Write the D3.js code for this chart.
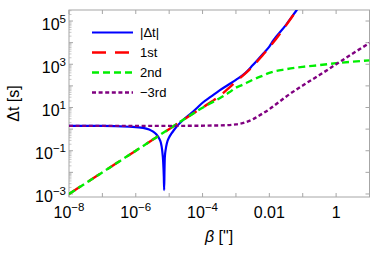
<!DOCTYPE html>
<html>
<head>
<meta charset="utf-8">
<script src="https://cdn.jsdelivr.net/npm/d3@7"></script>
<style>
  body { margin: 0; background: #fff; }
  text { font-family: "Liberation Sans", Arial, sans-serif; }
</style>
</head>
<body>
<svg id="chart" width="374" height="255"></svg>
<script>
// values, as log10(beta) and log10(delta t)
const blueLogB = [-8, -7, -6.2, -5.78, -5.6, -5.48, -5.38, -5.3, -5.25, -5.21, -5.18, -5.16, -5.15, -5.14, -5.13, -5.1, -5.07, -5.0, -4.93, -4.85, -4.78, -4.6, -4.38, -4.2, -4.0, -3.75, -3.5, -3.25, -3.0, -2.73, -2.5, -2.18, -2.0, -1.88, -1.5, -1.18, -1.0];
const blueLogT = [0.15, 0.15, 0.11, 0.06, -0.02, -0.12, -0.25, -0.43, -0.62, -0.97, -1.5, -2.2, -2.82, -1.9, -1.3, -0.9, -0.66, -0.38, -0.2, -0.03, 0.11, 0.4, 0.68, 0.93, 1.22, 1.5, 1.78, 2.03, 2.28, 2.58, 2.95, 3.5, 3.82, 4.1, 4.82, 5.51, 5.9];

const redLogB = [-8, -6, -4.5, -4.0, -3.7, -3.5, -3.2, -3.0, -2.7, -2.5, -2.2, -2.0, -1.5, -1.18, -1.0];
const redLogT = [-3, -1, 0.5, 1.0, 1.3, 1.52, 1.92, 2.2, 2.6, 2.9, 3.42, 3.78, 4.8, 5.5, 5.9];

const greenLogB = [-8, -6, -4.2, -4.0, -3.7, -3.5, -3.2, -3.0, -2.8, -2.5, -2.2, -2.0, -1.5, -1.0, -0.5, 0, 0.5, 1.0];
const greenLogT = [-3, -1, 0.8, 0.99, 1.25, 1.42, 1.7, 1.92, 2.05, 2.28, 2.47, 2.6, 2.77, 2.88, 2.96, 3.05, 3.12, 3.18];

const purpleLogB = [-8, -5, -3.5, -3.0, -2.8, -2.5, -2.3, -2.0, -1.8, -1.5, -1.0, -0.5, 0, 0.5, 1.0];
const purpleLogT = [0.15, 0.15, 0.17, 0.22, 0.28, 0.45, 0.63, 0.92, 1.15, 1.5, 2.02, 2.5, 3.0, 3.5, 3.98];

const xTickExp = [-8, -7, -6, -5, -4, -3, -2, -1, 0, 1];
const xTickLabels = { "-8": ["10", "−8"], "-6": ["10", "−6"], "-4": ["10", "−4"], "-2": ["0.01", ""], "0": ["1", ""] };
const yTickExp = [-3, -2, -1, 0, 1, 2, 3, 4, 5];
const yTickLabels = { "-3": "−3", "-1": "−1", "1": "1", "3": "3", "5": "5" };

const seriesNames = ["|Δt|", "1st", "2nd", "−3rd"];
const seriesColors = ["#0000ff", "#ff0000", "#00ee00", "#800080"];
const seriesDash = [null, "14,9", "7,4", "4,2.6"];
const seriesWidth = [2.2, 2.4, 2.4, 2.4];

const pLeft = 69, pRight = 369.5, pTop = 10, pBottom = 197;

const svg = d3.select("#chart");
const x = d3.scaleLog().domain([1e-8, 10]).range([pLeft, pRight]);
const y = d3.scaleLog().domain([Math.pow(10, -3.14), Math.pow(10, 5.51)]).range([pBottom, pTop]);

svg.append("clipPath").attr("id", "clip")
  .append("rect").attr("x", pLeft).attr("y", pTop).attr("width", pRight - pLeft).attr("height", pBottom - pTop);

const frameColor = "#a6a6a6";

// ticks on all four sides
const tickG = svg.append("g").attr("stroke", frameColor).attr("stroke-width", 1);
xTickExp.forEach(e => {
  const px = x(Math.pow(10, e));
  tickG.append("line").attr("x1", px).attr("x2", px).attr("y1", pBottom).attr("y2", pBottom - 4);
  tickG.append("line").attr("x1", px).attr("x2", px).attr("y1", pTop).attr("y2", pTop + 4);
});
yTickExp.forEach(e => {
  const py = y(Math.pow(10, e));
  tickG.append("line").attr("x1", pLeft).attr("x2", pLeft + 4).attr("y1", py).attr("y2", py);
  tickG.append("line").attr("x1", pRight).attr("x2", pRight - 4).attr("y1", py).attr("y2", py);
  // minor ticks on the left side
  for (let m = 2; m <= 9; m++) {
    const v = m * Math.pow(10, e);
    if (v > y.domain()[1]) continue;
    const pm = y(v);
    tickG.append("line").attr("x1", pLeft).attr("x2", pLeft + 2.5).attr("y1", pm).attr("y2", pm)
      .attr("stroke", "#c8c8c8");
  }
});

svg.append("rect").attr("x", pLeft).attr("y", pTop).attr("width", pRight - pLeft).attr("height", pBottom - pTop)
  .attr("fill", "none").attr("stroke", frameColor).attr("stroke-width", 1);

// curves
const line = d3.line()
  .x(d => x(Math.pow(10, d[0])))
  .y(d => y(Math.pow(10, d[1])))
  .curve(d3.curveMonotoneX);

const series = [
  d3.zip(blueLogB, blueLogT),
  d3.zip(redLogB, redLogT),
  d3.zip(greenLogB, greenLogT),
  d3.zip(purpleLogB, purpleLogT)
];

const plot = svg.append("g").attr("clip-path", "url(#clip)");
series.forEach((pts, i) => {
  plot.append("path")
    .attr("d", line(pts))
    .attr("fill", "none")
    .attr("stroke", seriesColors[i])
    .attr("stroke-width", seriesWidth[i])
    .attr("stroke-dasharray", seriesDash[i]);
});

// x tick labels
Object.keys(xTickLabels).forEach(k => {
  const px = x(Math.pow(10, +k));
  const [base, sup] = xTickLabels[k];
  const t = svg.append("text").attr("y", 218).attr("font-size", 16).attr("fill", "#000")
    .attr("text-anchor", "middle").attr("x", px);
  t.append("tspan").text(base);
  if (sup) t.append("tspan").attr("dy", -7).attr("font-size", 11.5).text(sup);
});

// y tick labels
Object.keys(yTickLabels).forEach(k => {
  const py = y(Math.pow(10, +k));
  const t = svg.append("text").attr("y", py + 8.5).attr("x", 66).attr("font-size", 16).attr("fill", "#000")
    .attr("text-anchor", "end");
  t.append("tspan").text("10");
  t.append("tspan").attr("dy", -7).attr("font-size", 11.5).text(yTickLabels[k]);
});

// axis titles
svg.append("text").attr("transform", "translate(19,103.5) rotate(-90)")
  .attr("text-anchor", "middle").attr("font-size", 16).text("Δt [s]");
const xt = svg.append("text").attr("x", 219).attr("y", 242).attr("text-anchor", "middle").attr("font-size", 16);
xt.append("tspan").attr("font-style", "italic").text("β");
xt.append("tspan").text(" [\"]");

// legend
const legend = svg.append("g");
seriesNames.forEach((name, i) => {
  const ly = 32.5 + i * 20;
  legend.append("line").attr("x1", 92).attr("x2", 133).attr("y1", ly).attr("y2", ly)
    .attr("stroke", seriesColors[i]).attr("stroke-width", seriesWidth[i])
    .attr("stroke-dasharray", seriesDash[i]);
  legend.append("text").attr("x", 140).attr("y", ly + 4.5).attr("font-size", 13).text(name);
});
</script>
</body>
</html>
